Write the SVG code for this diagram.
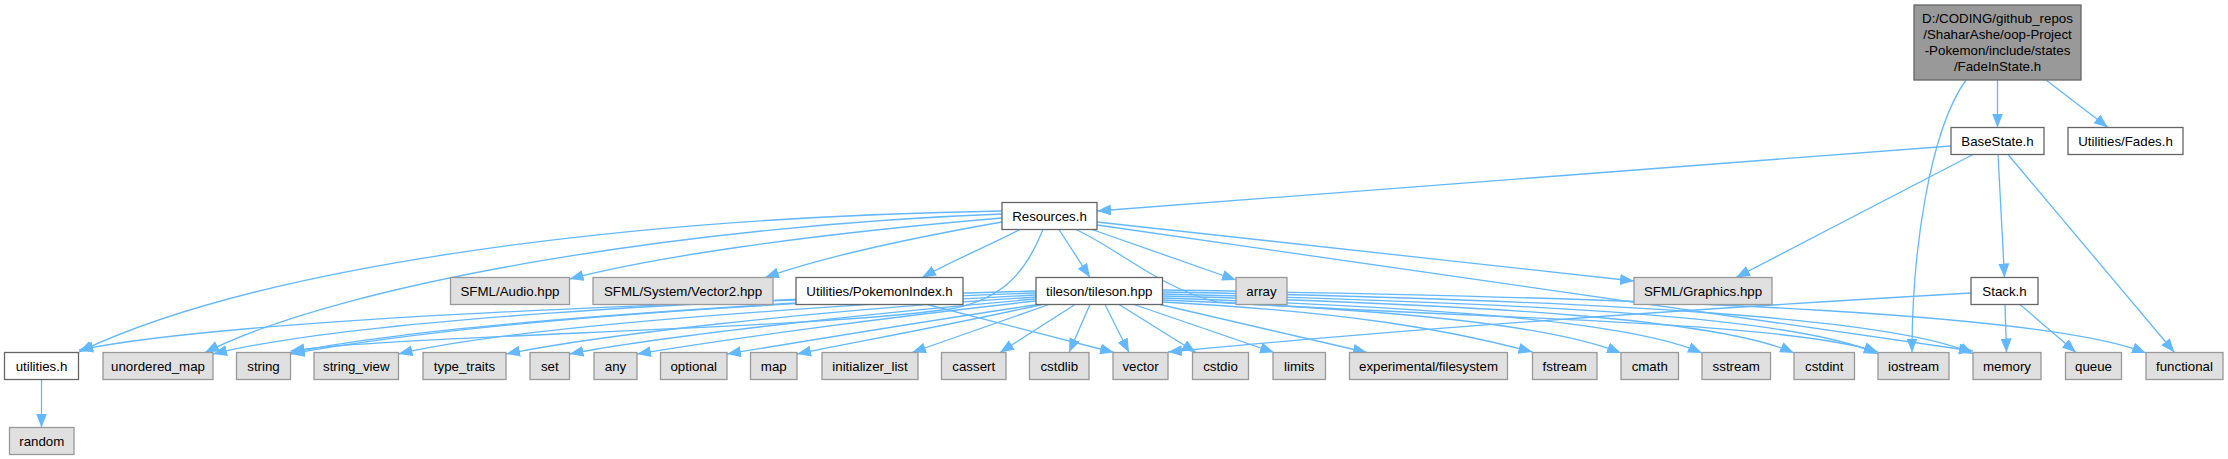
<svg xmlns="http://www.w3.org/2000/svg" width="2228" height="459" viewBox="0 0 2228 459">
<style>
text{font-family:"Liberation Sans",Arial,sans-serif;font-size:13.3px;fill:#000;text-anchor:middle}
.e{fill:none;stroke:#63b8ff;stroke-width:1.3;marker-end:url(#arr)}
.w{fill:#fff;stroke:#666;stroke-width:1.3}
.g{fill:#e0e0e0;stroke:#999;stroke-width:1.3}
.r{fill:#999;stroke:#666;stroke-width:1.3}
</style>
<defs>
<marker id="arr" markerUnits="userSpaceOnUse" markerWidth="15" markerHeight="12" refX="14" refY="5.5" orient="auto"><path d="M0,0 L14,5.5 L0,11 z" fill="#63b8ff"/></marker>
</defs>
<rect width="2228" height="459" fill="#fff"/>
<g id="edges">
<path class="e" d="M1997.5,80 L1997.5,127.5"/>
<path class="e" d="M2046,80 L2108,127.5"/>
<path class="e" d="M1966,80 C1930,130 1912,250 1912,352.5"/>
<path class="e" d="M1951,146 L1097,211"/>
<path class="e" d="M1973,154.5 L1736,277.5"/>
<path class="e" d="M1998,154.5 L2004.5,277.5"/>
<path class="e" d="M2008,154.5 L2174.5,352.5"/>
<path class="e" d="M2005,304.5 L2006.5,352.5"/>
<path class="e" d="M2020,304.5 L2076,352.5"/>
<path class="e" d="M1971,293 Q1500,320 1168,352"/>
<path class="e" d="M1002,211 C600,218 250,270 79,352"/>
<path class="e" d="M1002,214 C700,225 350,280 205,352.5"/>
<path class="e" d="M1002,218 C800,235 650,258 569.5,279"/>
<path class="e" d="M1002,222 C900,240 820,258 765,277.5"/>
<path class="e" d="M1020,229.5 C990,245 950,262 922,277.5"/>
<path class="e" d="M1043,229.5 C1025,275 1000,300 950,309 C800,330 400,335 290.5,351"/>
<path class="e" d="M1059,229.5 L1090,277.5"/>
<path class="e" d="M1092,229.5 L1236,280"/>
<path class="e" d="M1076,229.5 C1120,250 1160,288 1217,302 C1450,318 1780,320 1878,352"/>
<path class="e" d="M1097,225 L1973,351"/>
<path class="e" d="M1097,222 L1634,281"/>
<path class="e" d="M796,300 C500,310 200,325 79,350"/>
<path class="e" d="M796,303 C600,315 400,330 290.5,353"/>
<path class="e" d="M927,304.5 L1114,352.5"/>
<path class="e" d="M1036,291 C700,300 350,320 213,354"/>
<path class="e" d="M1036,293 C700,305 450,325 290.5,354"/>
<path class="e" d="M1036,295 C750,310 500,330 398.5,354"/>
<path class="e" d="M1036,297 C800,312 600,335 506,354"/>
<path class="e" d="M1036,299 C850,315 650,338 569.5,354"/>
<path class="e" d="M1036,301 C880,318 720,340 637,354"/>
<path class="e" d="M1038,304.5 C920,322 800,342 727,354"/>
<path class="e" d="M1042,304.5 C950,325 850,343 797,354"/>
<path class="e" d="M1049,304.5 L912,352.5"/>
<path class="e" d="M1075,304.5 L1000,352.5"/>
<path class="e" d="M1090,304.5 L1069,352.5"/>
<path class="e" d="M1105,304.5 L1129,352.5"/>
<path class="e" d="M1119,304.5 L1196,352.5"/>
<path class="e" d="M1134,304.5 L1274,352.5"/>
<path class="e" d="M1160,304.5 L1367,352.5"/>
<path class="e" d="M1162.5,302 C1350,312 1450,330 1532.5,352"/>
<path class="e" d="M1162.5,300 C1400,310 1550,325 1621,353"/>
<path class="e" d="M1162.5,298 C1450,308 1630,322 1702,353"/>
<path class="e" d="M1162.5,296 C1500,305 1720,320 1794,353"/>
<path class="e" d="M1162.5,294 C1550,303 1800,318 1878,354"/>
<path class="e" d="M1162.5,292 C1600,300 1900,318 1973,354"/>
<path class="e" d="M1162.5,290 C1700,298 2050,315 2146,353"/>
<path class="e" d="M41.5,379.5 L41.5,427.5"/>
</g>
<g id="node-root"><rect class="r" x="1914" y="5" width="167" height="75"/><text x="1997.5" y="23">D:/CODING/github_repos</text><text x="1997.5" y="39">/ShaharAshe/oop-Project</text><text x="1997.5" y="55">-Pokemon/include/states</text><text x="1997.5" y="71">/FadeInState.h</text></g>
<g id="node-BaseState"><rect class="w" x="1951" y="127.5" width="93" height="27"/><text x="1997.5" y="145.5">BaseState.h</text></g>
<g id="node-Fades"><rect class="w" x="2068" y="127.5" width="115" height="27"/><text x="2125.5" y="145.5">Utilities/Fades.h</text></g>
<g id="node-Resources"><rect class="w" x="1002" y="202.5" width="95" height="27"/><text x="1049.5" y="220.5">Resources.h</text></g>
<g id="node-Audio"><rect class="g" x="450.5" y="277.5" width="119" height="27"/><text x="510" y="295.5">SFML/Audio.hpp</text></g>
<g id="node-Vector2"><rect class="g" x="593" y="277.5" width="180" height="27"/><text x="683" y="295.5">SFML/System/Vector2.hpp</text></g>
<g id="node-PokemonIndex"><rect class="w" x="796" y="277.5" width="167" height="27"/><text x="879.5" y="295.5">Utilities/PokemonIndex.h</text></g>
<g id="node-tileson"><rect class="w" x="1036" y="277.5" width="126.5" height="27"/><text x="1099.25" y="295.5">tileson/tileson.hpp</text></g>
<g id="node-array"><rect class="g" x="1236" y="277.5" width="51" height="27"/><text x="1261.5" y="295.5">array</text></g>
<g id="node-Graphics"><rect class="g" x="1634" y="277.5" width="138" height="27"/><text x="1703" y="295.5">SFML/Graphics.hpp</text></g>
<g id="node-Stack"><rect class="w" x="1971" y="277.5" width="67" height="27"/><text x="2004.5" y="295.5">Stack.h</text></g>
<g id="node-utilities"><rect class="w" x="4.5" y="352.5" width="74" height="27"/><text x="41.5" y="370.5">utilities.h</text></g>
<g id="node-unordered_map"><rect class="g" x="103" y="352.5" width="110" height="27"/><text x="158" y="370.5">unordered_map</text></g>
<g id="node-string"><rect class="g" x="236.5" y="352.5" width="54" height="27"/><text x="263.5" y="370.5">string</text></g>
<g id="node-string_view"><rect class="g" x="314" y="352.5" width="84.5" height="27"/><text x="356.25" y="370.5">string_view</text></g>
<g id="node-type_traits"><rect class="g" x="423" y="352.5" width="83" height="27"/><text x="464.5" y="370.5">type_traits</text></g>
<g id="node-set"><rect class="g" x="530" y="352.5" width="39.5" height="27"/><text x="549.75" y="370.5">set</text></g>
<g id="node-any"><rect class="g" x="594" y="352.5" width="43" height="27"/><text x="615.5" y="370.5">any</text></g>
<g id="node-optional"><rect class="g" x="660.5" y="352.5" width="66.5" height="27"/><text x="693.75" y="370.5">optional</text></g>
<g id="node-map"><rect class="g" x="750.5" y="352.5" width="46.5" height="27"/><text x="773.75" y="370.5">map</text></g>
<g id="node-initializer_list"><rect class="g" x="822" y="352.5" width="96" height="27"/><text x="870" y="370.5">initializer_list</text></g>
<g id="node-cassert"><rect class="g" x="941.5" y="352.5" width="64.5" height="27"/><text x="973.75" y="370.5">cassert</text></g>
<g id="node-cstdlib"><rect class="g" x="1029.5" y="352.5" width="59.5" height="27"/><text x="1059.25" y="370.5">cstdlib</text></g>
<g id="node-vector"><rect class="g" x="1113" y="352.5" width="55" height="27"/><text x="1140.5" y="370.5">vector</text></g>
<g id="node-cstdio"><rect class="g" x="1192.5" y="352.5" width="56" height="27"/><text x="1220.5" y="370.5">cstdio</text></g>
<g id="node-limits"><rect class="g" x="1273" y="352.5" width="52.5" height="27"/><text x="1299.25" y="370.5">limits</text></g>
<g id="node-experimental"><rect class="g" x="1349.5" y="352.5" width="158" height="27"/><text x="1428.5" y="370.5">experimental/filesystem</text></g>
<g id="node-fstream"><rect class="g" x="1532.5" y="352.5" width="64.5" height="27"/><text x="1564.75" y="370.5">fstream</text></g>
<g id="node-cmath"><rect class="g" x="1621" y="352.5" width="57.5" height="27"/><text x="1649.75" y="370.5">cmath</text></g>
<g id="node-sstream"><rect class="g" x="1702" y="352.5" width="68.5" height="27"/><text x="1736.25" y="370.5">sstream</text></g>
<g id="node-cstdint"><rect class="g" x="1794" y="352.5" width="60.5" height="27"/><text x="1824.25" y="370.5">cstdint</text></g>
<g id="node-iostream"><rect class="g" x="1878" y="352.5" width="71" height="27"/><text x="1913.5" y="370.5">iostream</text></g>
<g id="node-memory"><rect class="g" x="1973" y="352.5" width="68" height="27"/><text x="2007" y="370.5">memory</text></g>
<g id="node-queue"><rect class="g" x="2065.5" y="352.5" width="56" height="27"/><text x="2093.5" y="370.5">queue</text></g>
<g id="node-functional"><rect class="g" x="2146" y="352.5" width="77" height="27"/><text x="2184.5" y="370.5">functional</text></g>
<g id="node-random"><rect class="g" x="9.5" y="427.5" width="64.5" height="27"/><text x="41.75" y="445.5">random</text></g>
</svg>
